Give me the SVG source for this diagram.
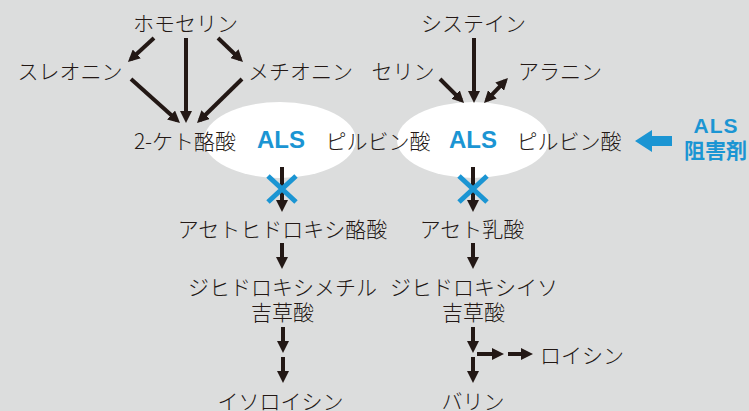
<svg xmlns="http://www.w3.org/2000/svg" width="749" height="411" viewBox="0 0 749 411">
<defs>
<style>
.t{font-family:"Noto Sans CJK JP","Noto Sans",sans-serif;font-size:21px;font-weight:300;fill:#231815;text-anchor:middle}
.als{font-family:"Liberation Sans",Arial,sans-serif;font-size:24px;font-weight:bold;fill:#1b95d3;text-anchor:middle}
.inh{font-family:"Noto Sans CJK JP","Liberation Sans",sans-serif;font-size:21px;font-weight:bold;fill:#1b95d3;text-anchor:middle}
.a{stroke:#231815;stroke-width:4;fill:none;marker-end:url(#ah)}
.x{stroke:#1b95d3;stroke-width:5;fill:none}
</style>
<marker id="ah" markerUnits="userSpaceOnUse" markerWidth="12" markerHeight="12" viewBox="0 0 12 12" refX="8" refY="6" orient="auto-start-reverse">
<path d="M0,0 L12,6 L0,12 z" fill="#231815"/>
</marker>
</defs>
<rect width="749" height="411" fill="#dcdddd"/>
<g id="als-left-bg"><ellipse cx="280" cy="140" rx="76" ry="38" fill="#fff"/></g>
<g id="als-right-bg"><ellipse cx="473" cy="140" rx="76" ry="38" fill="#fff"/></g>
<g id="connectors">
<line class="a" x1="186" y1="38" x2="186" y2="119"/>
<line class="a" x1="154" y1="38" x2="130.9" y2="59.3"/>
<line class="a" x1="218" y1="38" x2="240.1" y2="59.2"/>
<line class="a" x1="131" y1="79" x2="177" y2="120.3"/>
<line class="a" x1="242" y1="79" x2="199.9" y2="120.2"/>
<line class="a" x1="474" y1="38" x2="474" y2="99"/>
<line class="a" x1="440" y1="79" x2="461.2" y2="100.2"/>
<line class="a" x1="486.8" y1="100.1" x2="505.2" y2="80.9" style="marker-start:url(#ah)"/>
<line class="a" x1="282" y1="167" x2="282" y2="208"/>
<line class="a" x1="473" y1="167" x2="473" y2="208"/>
<line class="a" x1="282" y1="243" x2="282" y2="265"/>
<line class="a" x1="473" y1="243" x2="473" y2="265"/>
<line class="a" x1="283" y1="327" x2="283" y2="349"/>
<line class="a" x1="283" y1="357" x2="283" y2="379"/>
<line class="a" x1="473" y1="327" x2="473" y2="349"/>
<line class="a" x1="473" y1="357" x2="473" y2="379"/>
<line class="a" x1="477" y1="354" x2="500" y2="354"/>
<line class="a" x1="508" y1="354" x2="529" y2="354"/>
</g>
<g id="homoserine"><text class="t" x="185.5" y="31">ホモセリン</text></g>
<g id="threonine"><text class="t" x="70" y="79">スレオニン</text></g>
<g id="methionine"><text class="t" x="300.5" y="79">メチオニン</text></g>
<g id="serine"><text class="t" x="403" y="79">セリン</text></g>
<g id="cysteine"><text class="t" x="473.5" y="31">システイン</text></g>
<g id="alanine"><text class="t" x="560" y="79">アラニン</text></g>
<g id="ketobutyrate"><text class="t" x="185" y="149">2-ケト酪酸</text></g>
<g id="als-left">
<text class="als" x="281" y="148">ALS</text>
<text class="t" x="378" y="149">ピルビン酸</text>
</g>
<g id="als-right">
<text class="als" x="473" y="148">ALS</text>
<text class="t" x="569" y="149">ピルビン酸</text>
</g>
<g id="inhibitor">
<path d="M635,141 L652,130 L652,136 L672,136 L672,146 L652,146 L652,152 z" fill="#1b95d3"/>
<text class="inh" x="716"><tspan x="716" y="133" style="font-family:'Liberation Sans',Arial,sans-serif;font-size:21px;letter-spacing:1px">ALS</tspan><tspan x="715.5" y="158">阻害剤</tspan></text>
</g>
<g id="block-left"><path class="x" d="M268,176 L296,202 M296,176 L268,202"/></g>
<g id="block-right"><path class="x" d="M459,176 L487,202 M487,176 L459,202"/></g>
<g id="acetohydroxybutyrate"><text class="t" x="282.5" y="237">アセトヒドロキシ酪酸</text></g>
<g id="acetolactate"><text class="t" x="472" y="237">アセト乳酸</text></g>
<g id="dhmv"><text class="t"><tspan x="282.5" y="295">ジヒドロキシメチル</tspan><tspan x="282.5" y="320">吉草酸</tspan></text></g>
<g id="dhiv"><text class="t"><tspan x="474" y="295">ジヒドロキシイソ</tspan><tspan x="473.5" y="320">吉草酸</tspan></text></g>
<g id="isoleucine"><text class="t" x="280.5" y="409">イソロイシン</text></g>
<g id="valine"><text class="t" x="473" y="409">バリン</text></g>
<g id="leucine"><text class="t" x="540" y="363" style="text-anchor:start">ロイシン</text></g>
</svg>
